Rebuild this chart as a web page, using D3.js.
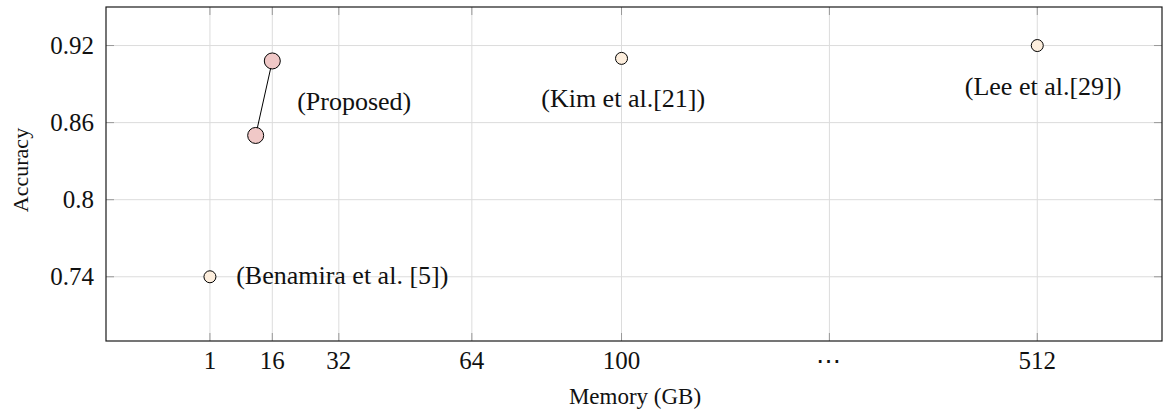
<!DOCTYPE html>
<html lang="en">
<head>
    <meta charset="UTF-8">
    <title>Accuracy vs Memory</title>
    <script src="https://d3js.org/d3.v7.min.js"></script>
    <style>
        body { margin: 0; background: #fff; }
        text { font-family: "Liberation Serif", "DejaVu Serif", serif; fill: #111; }
        .grid line { stroke: #dcdcdc; stroke-width: 1px; }
        .tick-mark { stroke: #999; stroke-width: 1px; }
    </style>
</head>
<body>
    <svg width="1166" height="410"></svg>
    <script>
        // x positions are the plot's own coordinates; the labels are what is printed under them
        const xTickValues = [1, 16, 32, 64, 100, 150, 200];
        const xTickLabels = ["1", "16", "32", "64", "100", "\u22EF", "512"];
        const yTickValues = [0.74, 0.8, 0.86, 0.92];
        const yTickLabels = ["0.74", "0.8", "0.86", "0.92"];

        // proposed method (two configurations, joined by a line)
        const proposedX = [12, 16];
        const proposedY = [0.85, 0.908];

        // prior work
        const otherNames = ["Benamira", "Kim", "Lee"];
        const otherX = [1, 100, 200];
        const otherY = [0.74, 0.91, 0.92];

        // annotation text, anchored in axis coordinates
        const noteText = ["(Proposed)", "(Kim et al.[21])", "(Lee et al.[29])", "(Benamira et al. [5])"];
        const noteX = [35.7, 100.4, 201.4, 7.3];
        const noteY = [0.8698, 0.8722, 0.8815, 0.7344];
        const noteAnchor = ["middle", "middle", "middle", "start"];

        const svg = d3.select("svg");
        const margin = {left: 106, right: 4, top: 7, bottom: 69};
        const width = +svg.attr("width"), height = +svg.attr("height");
        const x0 = margin.left, x1 = width - margin.right;
        const y0 = margin.top, y1 = height - margin.bottom;

        const x = d3.scaleLinear().domain([-24, 230]).range([x0, x1]);
        const y = d3.scaleLinear().domain([0.69, 0.95]).range([y1, y0]);

        // grid
        const grid = svg.append("g").attr("class", "grid");
        grid.selectAll(".gx").data(xTickValues).join("line")
            .attr("x1", d => x(d)).attr("x2", d => x(d))
            .attr("y1", y0).attr("y2", y1);
        grid.selectAll(".gy").data(yTickValues).join("line")
            .attr("y1", d => y(d)).attr("y2", d => y(d))
            .attr("x1", x0).attr("x2", x1);

        // tick marks on all four sides, pointing inward
        const tl = 8;
        const ticks = svg.append("g");
        xTickValues.forEach(v => {
            ticks.append("line").attr("class", "tick-mark")
                .attr("x1", x(v)).attr("x2", x(v)).attr("y1", y1).attr("y2", y1 - tl);
            ticks.append("line").attr("class", "tick-mark")
                .attr("x1", x(v)).attr("x2", x(v)).attr("y1", y0).attr("y2", y0 + tl);
        });
        yTickValues.forEach(v => {
            ticks.append("line").attr("class", "tick-mark")
                .attr("y1", y(v)).attr("y2", y(v)).attr("x1", x0).attr("x2", x0 + tl);
            ticks.append("line").attr("class", "tick-mark")
                .attr("y1", y(v)).attr("y2", y(v)).attr("x1", x1).attr("x2", x1 - tl);
        });

        // frame
        svg.append("rect")
            .attr("x", x0).attr("y", y0)
            .attr("width", x1 - x0).attr("height", y1 - y0)
            .attr("fill", "none").attr("stroke", "#1a1a1a").attr("stroke-width", 1.2);

        // tick labels
        svg.append("g").selectAll("text").data(xTickValues).join("text")
            .attr("x", d => x(d)).attr("y", y1 + 28)
            .attr("text-anchor", "middle")
            .style("font-size", "25px")
            .style("letter-spacing", (d, i) => xTickLabels[i] === "\u22EF" ? "2px" : null)
            .text((d, i) => xTickLabels[i]);

        svg.append("g").selectAll("text").data(yTickValues).join("text")
            .attr("x", x0 - 12).attr("y", d => y(d))
            .attr("dy", "0.34em")
            .attr("text-anchor", "end")
            .style("font-size", "25px")
            .text((d, i) => yTickLabels[i]);

        // axis titles
        svg.append("text")
            .attr("x", (x0 + x1) / 2 + 1).attr("y", 404)
            .attr("text-anchor", "middle")
            .style("font-size", "23px")
            .text("Memory (GB)");

        svg.append("text")
            .attr("transform", `translate(28,${(y0 + y1) / 2 - 4}) rotate(-90)`)
            .attr("text-anchor", "middle")
            .style("font-size", "22px")
            .text("Accuracy");

        // proposed line + markers
        const proposed = proposedX.map((v, i) => ({x: v, y: proposedY[i]}));
        svg.append("path")
            .datum(proposed)
            .attr("fill", "none").attr("stroke", "#000").attr("stroke-width", 1)
            .attr("d", d3.line().x(d => x(d.x)).y(d => y(d.y)));
        svg.append("g").selectAll("circle").data(proposed).join("circle")
            .attr("cx", d => x(d.x)).attr("cy", d => y(d.y))
            .attr("r", 8)
            .attr("fill", "#f0c8c7").attr("stroke", "#000").attr("stroke-width", 1);

        // other methods
        const others = otherNames.map((n, i) => ({name: n, x: otherX[i], y: otherY[i]}));
        svg.append("g").selectAll("circle").data(others).join("circle")
            .attr("cx", d => x(d.x)).attr("cy", d => y(d.y))
            .attr("r", 6)
            .attr("fill", "#fdeedd").attr("stroke", "#000").attr("stroke-width", 1);

        // annotations
        svg.append("g").selectAll("text").data(noteText).join("text")
            .attr("x", (d, i) => x(noteX[i])).attr("y", (d, i) => y(noteY[i]))
            .attr("text-anchor", (d, i) => noteAnchor[i])
            .style("font-size", "26px")
            .text(d => d);
    </script>
</body>
</html>
